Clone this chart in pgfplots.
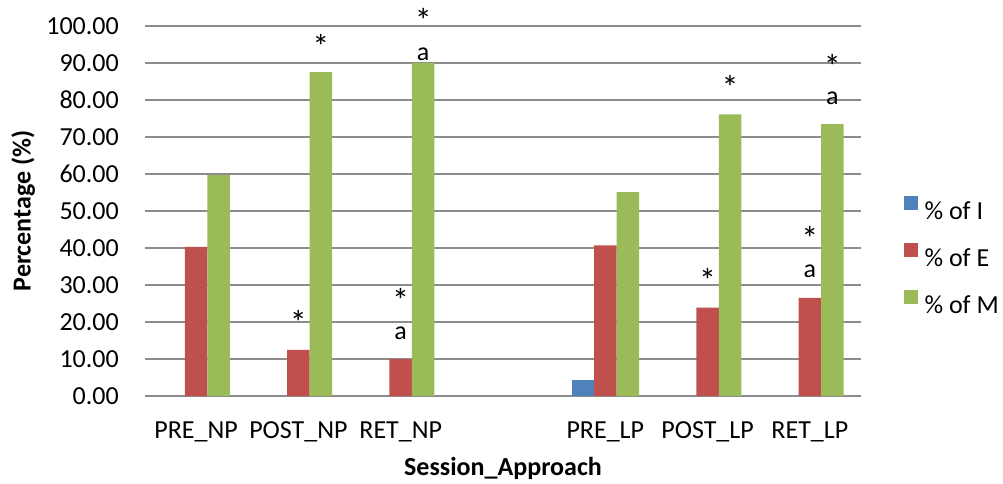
\documentclass[border=0pt]{standalone}
\usepackage{pgfplots}
\pgfplotsset{compat=1.18}
\usepackage{fontspec}
\setmainfont{Carlito}
\definecolor{cI}{HTML}{4F81BD}
\definecolor{cE}{HTML}{C0504D}
\definecolor{cM}{HTML}{9BBB59}
\definecolor{gridc}{HTML}{8C8C8C}
\begin{document}
\begin{tikzpicture}[x=1pt,y=1pt,font=\fontsize{26}{31}\selectfont,
  star/.style={anchor=base, font=\fontsize{34}{38}\selectfont}]
\useasboundingbox (0,0) rectangle (1003,483);
\begin{axis}[
  at={(145pt,87pt)}, anchor=south west,
  scale only axis, width=716pt, height=370pt,
  xmin=-0.5, xmax=6.5, ymin=0, ymax=100,
  enlargelimits=false,
  ytick={0,10,...,100},
  xtick={0,1,2,4,5,6},
  xticklabels={PRE\_NP,POST\_NP,RET\_NP,PRE\_LP,POST\_LP,RET\_LP},
  /pgf/number format/fixed,
  /pgf/number format/fixed zerofill,
  /pgf/number format/precision=2,
  /pgf/number format/assume math mode=true,
  yticklabel style={anchor=east, inner sep=0pt, xshift=-26pt},
  xticklabel style={anchor=base, inner sep=0pt, yshift=-42pt},
  major tick length=0pt,
  axis line style={draw=none},
  ymajorgrids, grid style={gridc, line width=1.3pt},
  ybar, bar width=0.22,
  clip=false,
  xlabel={\textbf{Session\_Approach}},
  xlabel style={at={(axis description cs:0.5,-0.196)}, anchor=center},
  ylabel={\textbf{Percentage (\%)}},
  ylabel style={at={(axis description cs:-0.170,0.5)}, anchor=center},
  legend style={at={(axis description cs:1.055,0.381)}, anchor=west, draw=none, fill=none,
    row sep=22pt, column sep=6pt, nodes={inner sep=1pt, text height=17pt, text depth=0pt}},
  legend cell align=left,
  legend image code/.code={\fill[#1,draw=none] (0pt,1.5pt) rectangle (14pt,15.5pt);},
]
\addplot[fill=cI, draw=none, bar shift=-0.22] coordinates {(4,4.2)};
\addplot[fill=cE, draw=none, bar shift=0] coordinates {(0,40.3)(1,12.5)(2,10.0)(4,40.7)(5,23.9)(6,26.5)};
\addplot[fill=cM, draw=none, bar shift=0.22] coordinates {(0,59.7)(1,87.5)(2,90.0)(4,55.1)(5,76.1)(6,73.5)};
\legend{\% of I,\% of E,\% of M}
% significance annotations
\node[star] at (axis cs:1,16.5) {*};
\node[star] at (axis cs:1.22,91.3) {*};
\node[star] at (axis cs:2,22.7) {*};
\node[anchor=base] at (axis cs:2,15.4) {a};
\node[star] at (axis cs:2.22,98.3) {*};
\node[anchor=base] at (axis cs:2.22,90.7) {a};
\node[star] at (axis cs:5,27.9) {*};
\node[star] at (axis cs:5.22,80.2) {*};
\node[star] at (axis cs:6,39.2) {*};
\node[anchor=base] at (axis cs:6,32.0) {a};
\node[star] at (axis cs:6.22,85.9) {*};
\node[anchor=base] at (axis cs:6.22,78.8) {a};
\end{axis}
\end{tikzpicture}
\end{document}
